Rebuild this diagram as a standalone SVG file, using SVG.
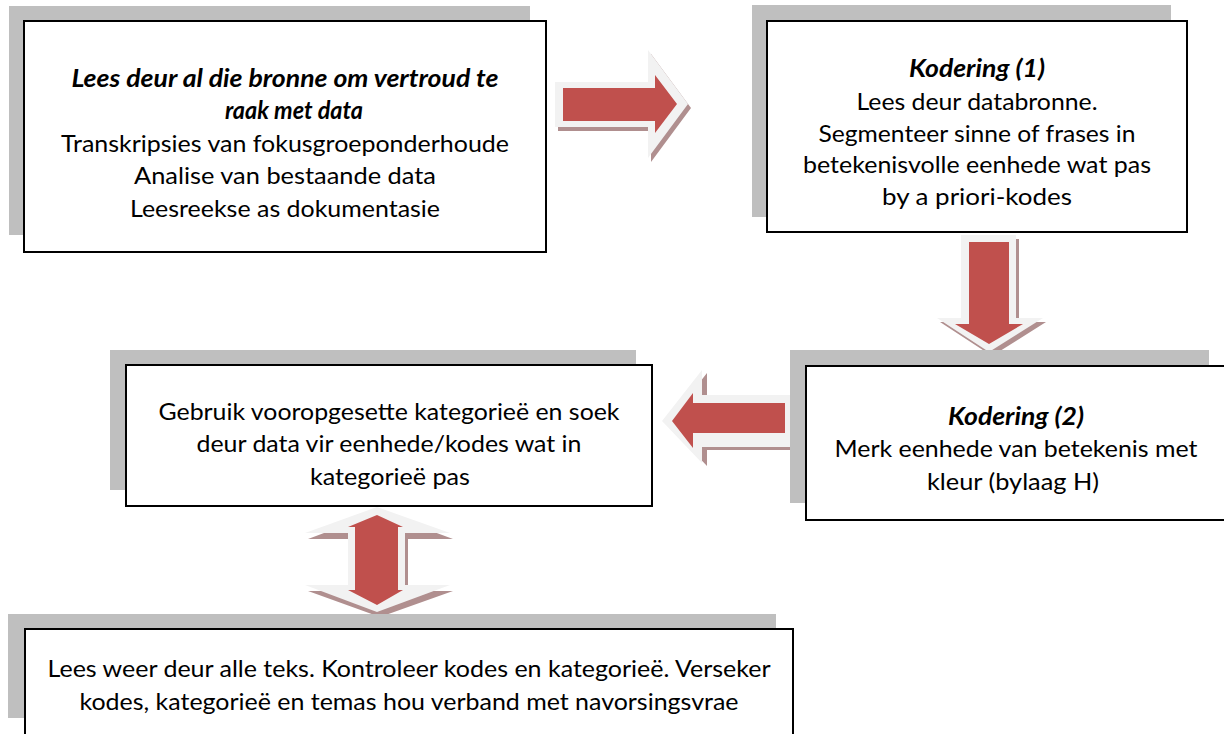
<svg xmlns="http://www.w3.org/2000/svg" width="1224" height="734" viewBox="0 0 1224 734">
<style>
.sh{fill:#bfbfbf}
.bx{fill:#ffffff;stroke:#000000;stroke-width:2}
.t{font-family:Lato,"Liberation Sans",sans-serif;font-size:24px;fill:#000000;text-anchor:middle}
.b{font-weight:bold;font-style:italic}
.ash{fill:#b08f8f}
.aout{fill:#f2f2f2}
.ain{fill:#c0504d}
</style>
<rect width="1224" height="734" fill="#ffffff"/>
<g id="connectors">
  <g id="arrow-right">
    <polygon class="ash" points="558,86 651,86 651,54 691,108 651,162 651,131 558,131"/>
    <polygon class="aout" points="555,82 648,82 648,50 688,104 648,158 648,127 555,127"/>
    <polygon class="ain" points="563,88 655,88 655,75 677,104 655,133 655,121 563,121"/>
  </g>
  <g id="arrow-down">
    <polygon class="ash" points="964,239 1019,239 1019,322 1046,322 992,356 940,322 964,322"/>
    <polygon class="aout" points="961,235 1016,235 1016,318 1043,318 989,352 937,318 961,318"/>
    <polygon class="ain" points="969,242 1009,242 1009,324 1023,324 989,344 955,324 969,324"/>
  </g>
  <g id="arrow-left">
    <polygon class="ash" points="667,424 707,373 707,398 795,398 795,450 707,450 707,466"/>
    <polygon class="aout" points="662,421 702,370 702,395 790,395 790,447 702,447 702,463"/>
    <polygon class="ain" points="672,421 693,393 693,403 785,403 785,433 693,433 693,448"/>
  </g>
  <g id="arrow-updown">
    <polygon class="ash" points="380,512 453,539 408,539 408,591 453,591 380,617 308,591 351,591 351,539 308,539"/>
    <polygon class="aout" points="377,507 450,533 405,533 405,585 450,585 377,612 305,585 348,585 348,533 305,533"/>
    <polygon class="ain" points="377,515 403,527 398,527 398,590 403,590 377,605 348,590 355,590 355,527 348,527"/>
  </g>
</g>
<g id="node1">
  <rect class="sh" x="9" y="6" width="521" height="229"/>
  <rect class="bx" x="24" y="21" width="522" height="231"/>
  <text class="t b" x="285" y="87" textLength="427" lengthAdjust="spacingAndGlyphs">Lees deur al die bronne om vertroud te</text>
  <text class="t b" x="294" y="119" textLength="138" lengthAdjust="spacingAndGlyphs">raak met data</text>
  <text class="t" x="285" y="152" textLength="448" lengthAdjust="spacingAndGlyphs">Transkripsies van fokusgroeponderhoude</text>
  <text class="t" x="285" y="184" textLength="302" lengthAdjust="spacingAndGlyphs">Analise van bestaande data</text>
  <text class="t" x="285" y="217" textLength="310" lengthAdjust="spacingAndGlyphs">Leesreekse as dokumentasie</text>
</g>
<g id="node2">
  <rect class="sh" x="752" y="5" width="419" height="212"/>
  <rect class="bx" x="767" y="21" width="420" height="211"/>
  <text class="t b" x="977" y="77" textLength="136" lengthAdjust="spacingAndGlyphs">Kodering (1)</text>
  <text class="t" x="977" y="110" textLength="241" lengthAdjust="spacingAndGlyphs">Lees deur databronne.</text>
  <text class="t" x="977" y="142" textLength="317" lengthAdjust="spacingAndGlyphs">Segmenteer sinne of frases in</text>
  <text class="t" x="977" y="173" textLength="348" lengthAdjust="spacingAndGlyphs">betekenisvolle eenhede wat pas</text>
  <text class="t" x="977" y="205" textLength="190" lengthAdjust="spacingAndGlyphs">by a priori-kodes</text>
</g>
<g id="node3">
  <rect class="sh" x="790" y="350" width="419" height="153"/>
  <rect class="bx" x="806" y="366" width="422" height="154"/>
  <text class="t b" x="1016" y="425" textLength="136" lengthAdjust="spacingAndGlyphs">Kodering (2)</text>
  <text class="t" x="1016" y="457" textLength="363" lengthAdjust="spacingAndGlyphs">Merk eenhede van betekenis met</text>
  <text class="t" x="1013" y="490" textLength="172" lengthAdjust="spacingAndGlyphs">kleur (bylaag H)</text>
</g>
<g id="node4">
  <rect class="sh" x="110" y="350" width="526" height="140"/>
  <rect class="bx" x="126" y="365" width="526" height="141"/>
  <text class="t" x="389" y="420" textLength="461" lengthAdjust="spacingAndGlyphs">Gebruik vooropgesette kategorieë en soek</text>
  <text class="t" x="389" y="452" textLength="385" lengthAdjust="spacingAndGlyphs">deur data vir eenhede/kodes wat in</text>
  <text class="t" x="390" y="485" textLength="160" lengthAdjust="spacingAndGlyphs">kategorieë pas</text>
</g>
<g id="node5">
  <rect class="sh" x="8" y="614" width="768" height="104"/>
  <rect class="bx" x="25" y="629" width="768" height="110"/>
  <text class="t" x="409" y="677" textLength="723" lengthAdjust="spacingAndGlyphs">Lees weer deur alle teks. Kontroleer kodes en kategorieë. Verseker</text>
  <text class="t" x="409" y="710" textLength="659" lengthAdjust="spacingAndGlyphs">kodes, kategorieë en temas hou verband met navorsingsvrae</text>
</g>
</svg>
